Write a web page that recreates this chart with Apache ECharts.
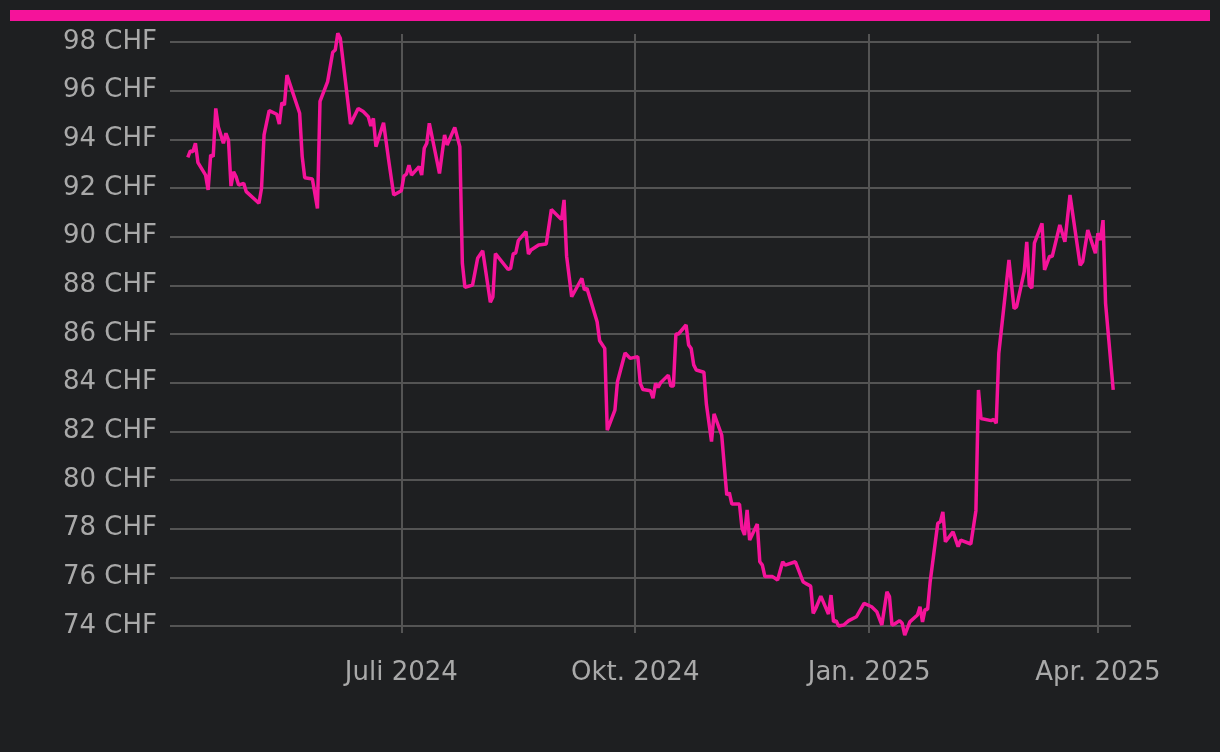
<!DOCTYPE html>
<html>
<head>
<meta charset="utf-8">
<script src="https://cdn.jsdelivr.net/npm/echarts@6/dist/echarts.min.js"></script>
<style>
html,body{margin:0;padding:0;background:#1e1f21;}
#chart{width:1220px;height:752px;}
</style>
</head>
<body>
<div id="chart"></div>
<script>
const dates = [
'2024-04-08','2024-04-09','2024-04-10','2024-04-11','2024-04-12','2024-04-15','2024-04-16','2024-04-17','2024-04-18','2024-04-19',
'2024-04-20','2024-04-22','2024-04-23','2024-04-24','2024-04-25','2024-04-26','2024-04-27','2024-04-28','2024-04-30','2024-05-01',
'2024-05-06','2024-05-07','2024-05-08','2024-05-10','2024-05-13','2024-05-14','2024-05-15','2024-05-16','2024-05-17','2024-05-22',
'2024-05-23','2024-05-24','2024-05-27','2024-05-29','2024-05-30','2024-06-02','2024-06-04','2024-06-05','2024-06-06','2024-06-07',
'2024-06-11','2024-06-14','2024-06-16','2024-06-18','2024-06-19','2024-06-20','2024-06-21','2024-06-24','2024-06-26','2024-06-28',
'2024-07-01','2024-07-02','2024-07-03','2024-07-04','2024-07-05','2024-07-08','2024-07-09','2024-07-10','2024-07-11','2024-07-12',
'2024-07-16','2024-07-18','2024-07-19','2024-07-22','2024-07-24','2024-07-25','2024-07-26','2024-07-29','2024-07-31','2024-08-02',
'2024-08-05','2024-08-06','2024-08-07','2024-08-12','2024-08-13','2024-08-14','2024-08-15','2024-08-16','2024-08-19','2024-08-20',
'2024-08-21','2024-08-24','2024-08-27','2024-08-29','2024-09-02','2024-09-03','2024-09-04','2024-09-06','2024-09-10','2024-09-11',
'2024-09-12','2024-09-16','2024-09-17','2024-09-19','2024-09-20','2024-09-23','2024-09-24','2024-09-27','2024-09-29','2024-10-02',
'2024-10-03','2024-10-04','2024-10-07','2024-10-08','2024-10-09','2024-10-10','2024-10-11','2024-10-14','2024-10-15','2024-10-16',
'2024-10-17','2024-10-18','2024-10-21','2024-10-22','2024-10-23','2024-10-24','2024-10-25','2024-10-28','2024-10-29','2024-10-31',
'2024-11-01','2024-11-04','2024-11-06','2024-11-07','2024-11-08','2024-11-11','2024-11-12','2024-11-13','2024-11-14','2024-11-15',
'2024-11-18','2024-11-19','2024-11-20','2024-11-21','2024-11-24','2024-11-26','2024-11-28','2024-11-29','2024-12-03','2024-12-06',
'2024-12-07','2024-12-09','2024-12-10','2024-12-11','2024-12-13','2024-12-16','2024-12-17','2024-12-18','2024-12-19','2024-12-20',
'2024-12-22','2024-12-24','2024-12-27','2024-12-30','2025-01-02','2025-01-04','2025-01-06','2025-01-08','2025-01-09','2025-01-10',
'2025-01-11','2025-01-13','2025-01-14','2025-01-15','2025-01-17','2025-01-20','2025-01-21','2025-01-22','2025-01-23','2025-01-24',
'2025-01-25','2025-01-28','2025-01-29','2025-01-30','2025-01-31','2025-02-03','2025-02-05','2025-02-06','2025-02-10','2025-02-12',
'2025-02-13','2025-02-14','2025-02-18','2025-02-19','2025-02-20','2025-02-21','2025-02-25','2025-02-27','2025-02-28','2025-03-03',
'2025-03-04','2025-03-05','2025-03-06','2025-03-07','2025-03-10','2025-03-11','2025-03-13','2025-03-14','2025-03-17','2025-03-19',
'2025-03-21','2025-03-25','2025-03-26','2025-03-28','2025-03-31','2025-04-01','2025-04-02','2025-04-03','2025-04-04','2025-04-07'
];
const prices = [
93.26,93.53,93.49,93.84,93.04,92.53,91.92,93.36,93.29,95.27,
94.52,93.84,94.25,93.97,92.08,92.67,92.46,92.12,92.19,91.85,
91.37,91.99,94.18,95.18,95.03,94.63,95.51,95.41,96.64,95.07,
93.29,92.42,92.37,91.16,95.56,96.37,97.58,97.67,98.36,98.15,
94.63,95.27,95.14,94.93,94.55,94.86,93.70,94.68,93.15,91.71,
91.89,92.49,92.57,92.94,92.53,92.88,92.53,93.63,93.84,94.66,
92.60,94.18,93.77,94.49,93.70,88.90,87.92,88.01,89.11,89.42,
87.30,87.52,89.30,88.65,88.70,89.30,89.33,89.84,90.21,89.29,
89.45,89.66,89.70,91.12,90.70,91.51,89.20,87.53,88.29,87.81,
87.88,86.50,85.72,85.41,82.05,82.87,84.04,85.22,85.00,85.07,
83.97,83.72,83.67,83.36,83.97,83.81,84.00,84.31,83.86,83.86,
86.00,86.00,86.37,85.55,85.40,84.73,84.52,84.43,83.10,81.58,
82.72,81.85,79.38,79.48,79.01,79.01,78.01,77.74,78.77,77.53,
78.19,76.64,76.50,76.03,76.03,75.89,76.64,76.50,76.64,75.82,
75.75,75.64,74.52,74.72,75.23,74.49,75.27,74.17,74.22,74.00,
74.04,74.22,74.38,74.93,74.79,74.59,74.04,75.41,75.21,74.04,
74.08,74.22,74.11,73.63,74.17,74.45,74.79,74.17,74.68,74.68,
75.82,78.22,78.28,78.69,77.46,77.87,77.26,77.53,77.37,78.74,
83.70,82.53,82.44,82.49,82.33,85.21,89.04,87.05,87.12,88.56,
89.79,88.01,87.88,89.73,90.55,88.63,89.20,89.18,90.48,89.79,
91.71,88.83,88.97,90.27,89.32,90.14,89.86,90.68,87.26,83.70
];
const xTickDates = ['2024-07-01','2024-10-01','2025-01-01','2025-04-01'];
const xTickLabels = ['Juli 2024','Okt. 2024','Jan. 2025','Apr. 2025'];
const xRange = ['2024-04-01','2025-04-14'];
const yMin = 74, yMax = 98, yStep = 2;
const yUnit = 'CHF';

function ts(s){ const p = s.split('-').map(Number); return Date.UTC(p[0], p[1]-1, p[2]); }
const tickTs = xTickDates.map(ts);
const seriesData = dates.map((d,i)=>[ts(d), prices[i]]);

const FONT = 'DejaVu Sans';
const GRID = '#545454';
const TXT = '#a9a9a9';
const PINK = '#f5139a';

const chart = echarts.init(document.getElementById('chart'), null, {renderer:'canvas'});
chart.setOption({
  backgroundColor: '#1e1f21',
  animation: false,
  graphic: [{
    type: 'rect', left: 10, top: 10,
    shape: {width: 1200, height: 11},
    style: {fill: PINK}
  }],
  grid: {left: 170, right: 89, top: 42, bottom: 126},
  xAxis: [{
    type: 'value',
    min: ts(xRange[0]), max: ts(xRange[1]),
    axisLine: {show: false},
    axisTick: {show: true, length: 7, customValues: tickTs, lineStyle: {color: GRID, width: 2}},
    splitLine: {show: true, lineStyle: {color: GRID, width: 2}},
    axisLabel: {
      customValues: tickTs,
      margin: 34,
      color: TXT, fontFamily: FONT, fontSize: 26,
      formatter: function(v){ const i = tickTs.indexOf(v); return i >= 0 ? xTickLabels[i] : ''; }
    }
  },{
    type: 'value', position: 'top',
    min: ts(xRange[0]), max: ts(xRange[1]),
    axisLine: {show: false},
    axisTick: {show: true, length: 8, customValues: tickTs, lineStyle: {color: GRID, width: 2}},
    splitLine: {show: false},
    axisLabel: {show: false}
  }],
  yAxis: {
    type: 'value', min: yMin, max: yMax, interval: yStep,
    axisLine: {show: false}, axisTick: {show: false},
    splitLine: {lineStyle: {color: GRID, width: 2}},
    axisLabel: {
      margin: 13, color: TXT, fontFamily: FONT, fontSize: 26,
      padding: [4, 0, 0, 0],
      formatter: v => v + ' ' + yUnit
    }
  },
  series: [{
    type: 'line', xAxisIndex: 0, data: seriesData,
    showSymbol: false, clip: false,
    lineStyle: {color: PINK, width: 3.5},
    itemStyle: {color: PINK}
  }]
});
</script>
</body>
</html>
